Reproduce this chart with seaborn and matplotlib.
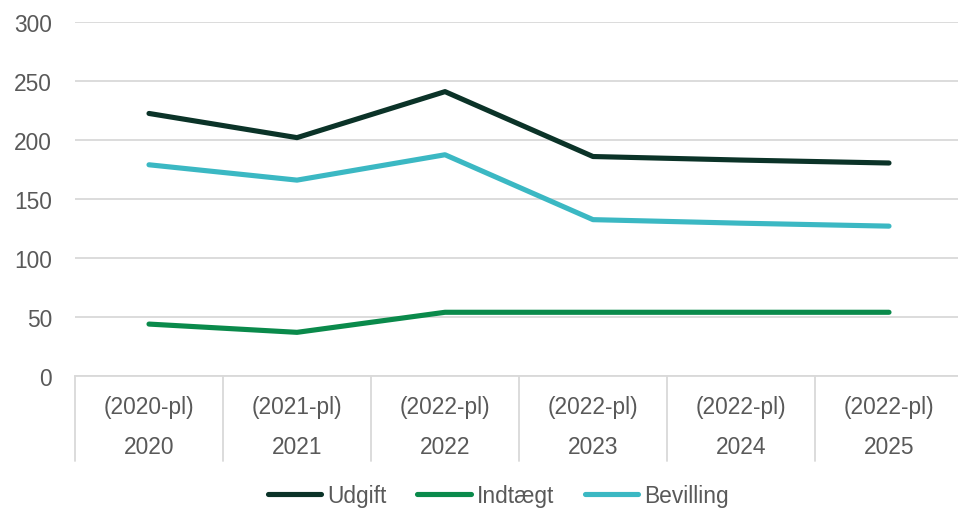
import numpy as np
import matplotlib.pyplot as plt
import matplotlib.transforms as mtransforms
import seaborn as sns
import pandas as pd

years = ["2020", "2021", "2022", "2023", "2024", "2025"]
price_levels = ["(2020-pl)", "(2021-pl)", "(2022-pl)", "(2022-pl)", "(2022-pl)", "(2022-pl)"]
udgift = [222.5, 202.0, 241.0, 186.0, 183.0, 180.5]
indtaegt = [44.0, 37.0, 54.0, 54.0, 54.0, 54.0]
bevilling = [179.0, 166.0, 187.5, 132.5, 129.5, 127.0]

series_names = ["Udgift", "Indtægt", "Bevilling"]
colors = ["#0B3328", "#0A8A4B", "#3BB8C3"]

df = pd.DataFrame({
    "pos": list(range(len(years))) * 3,
    "value": udgift + indtaegt + bevilling,
    "serie": [n for n in series_names for _ in years],
})

sns.set_style("white")
plt.rcParams["font.family"] = ["Liberation Sans", "DejaVu Sans"]
text_color = "#595959"
grid_color = "#D9D9D9"
fs = 16.4

fig = plt.figure(figsize=(9.58, 5.10), dpi=100)
ax = fig.add_axes([75 / 958, 133 / 510, 888 / 958, 354 / 510])

sns.lineplot(data=df, x="pos", y="value", hue="serie", hue_order=series_names,
             palette=colors, linewidth=3.7, ax=ax, legend=True,
             solid_capstyle="round", solid_joinstyle="round")

ax.set_xlim(-0.5, len(years) - 0.5)
ax.set_ylim(0, 300)
ax.set_yticks(np.arange(0, 301, 50))
ax.tick_params(axis="y", labelsize=fs, labelcolor=text_color, length=0, pad=16.5)
ax.set_xticks([])
ax.set_xlabel("")
ax.set_ylabel("")
ax.grid(axis="y", color=grid_color, linewidth=1.3)
ax.set_axisbelow(True)
for side in ["left", "right", "top"]:
    ax.spines[side].set_visible(False)
ax.spines["bottom"].set_color(grid_color)
ax.spines["bottom"].set_linewidth(1.3)

# category separators and two-level labels below the axis
trans = mtransforms.blended_transform_factory(ax.transData, ax.transAxes)
for i in range(len(years) + 1):
    ax.plot([i - 0.5, i - 0.5], [0, -0.24], transform=trans, color=grid_color,
            linewidth=1.3, clip_on=False)
for i, (pl, yr) in enumerate(zip(price_levels, years)):
    ax.text(i, -0.085, pl, transform=trans, ha="center", va="center",
            fontsize=fs, color=text_color)
    ax.text(i, -0.2, yr, transform=trans, ha="center", va="center",
            fontsize=fs, color=text_color)

ax.legend_.remove()
handles, labels = ax.get_legend_handles_labels()
leg = fig.legend(handles, labels, loc="center", bbox_to_anchor=(0.52, 0.027), ncol=3,
                 frameon=False, fontsize=fs, handlelength=2.35, handletextpad=0.25,
                 columnspacing=1.35)
for t in leg.get_texts():
    t.set_color(text_color)
for h in leg.get_lines():
    h.set_linewidth(3.7)
    h.set_solid_capstyle("round")

fig.savefig("out.png", dpi=100)
